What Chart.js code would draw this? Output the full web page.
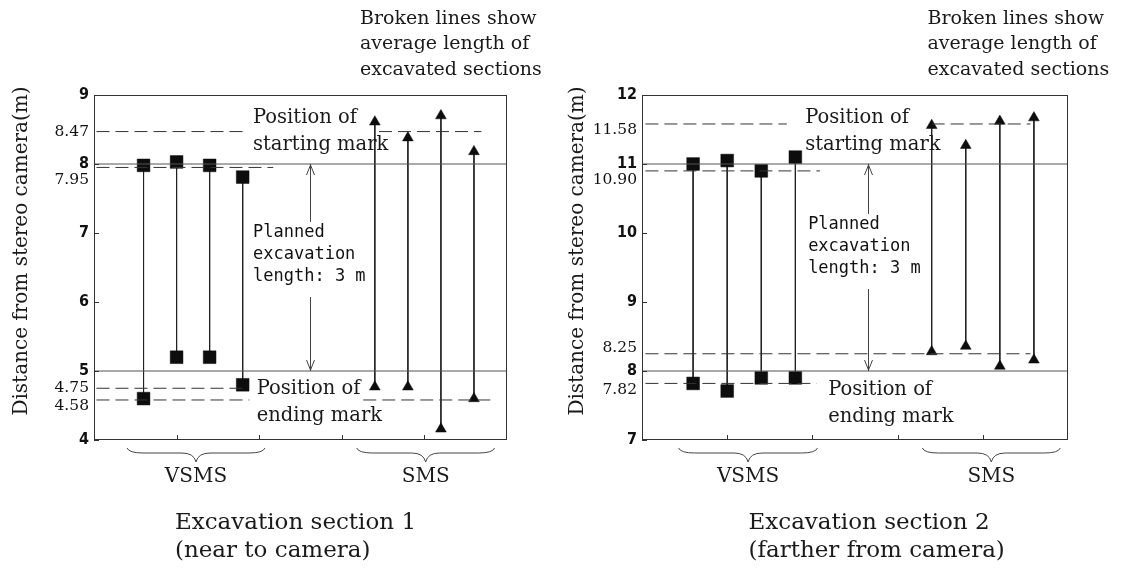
<!DOCTYPE html>
<html>
<head>
<meta charset="utf-8">
<script src="https://cdn.jsdelivr.net/npm/chart.js@4.4.0/dist/chart.umd.min.js"></script>
<style>
  html, body { margin: 0; padding: 0; background: #ffffff; }
  #wrap { position: relative; width: 1123px; height: 569px; overflow: hidden; background: #fff; }
  .panel { position: absolute; top: 0; height: 569px; }
  #p1 { left: 0; width: 561px; }
  #p2 { left: 561px; width: 562px; }
</style>
</head>
<body>
<div id="wrap">
  <div class="panel" id="p1"><canvas id="c1"></canvas></div>
  <div class="panel" id="p2"><canvas id="c2"></canvas></div>
</div>
<script>
// ================= DATA =================
const groupNames = ['VSMS', 'SMS'];
const vsmsSlots = [0.6, 1.0, 1.4, 1.8];   // x slot of each VSMS trial
const smsSlots  = [3.4, 3.8, 4.2, 4.6];   // x slot of each SMS trial

// Excavation section 1 (near to camera)
const s1VsmsStart = [7.98, 8.03, 7.98, 7.81];
const s1VsmsEnd   = [4.60, 5.20, 5.20, 4.80];
const s1SmsStart  = [8.61, 8.38, 8.70, 8.18];
const s1SmsEnd    = [4.77, 4.77, 4.16, 4.60];
const s1Planned   = [8, 5];                      // starting mark, ending mark
const s1Averages  = [8.47, 7.95, 4.75, 4.58];    // broken lines
const s1Ticks     = [4, 4.58, 4.75, 5, 6, 7, 7.95, 8, 8.47, 9];

// Excavation section 2 (farther from camera)
const s2VsmsStart = [11.00, 11.05, 10.90, 11.10];
const s2VsmsEnd   = [7.82, 7.71, 7.90, 7.90];
const s2SmsStart  = [11.56, 11.27, 11.62, 11.67];
const s2SmsEnd    = [8.28, 8.36, 8.07, 8.16];
const s2Planned   = [11, 8];
const s2Averages  = [11.58, 10.90, 8.25, 7.82];
const s2Ticks     = [7, 7.82, 8, 8.25, 9, 10, 10.90, 11, 11.58, 12];

const yTitle = 'Distance from stereo camera(m)';
const noteBroken = ['Broken lines show', 'average length of', 'excavated sections'];
const noteStart = ['Position of', 'starting mark'];
const noteEnd = ['Position of', 'ending mark'];
const notePlanned = ['Planned', 'excavation', 'length: 3 m'];
const s1Title = ['Excavation section 1', '(near to camera)'];
const s2Title = ['Excavation section 2', '(farther from camera)'];

// ================= LAYOUT / STYLE =================
const SERIF = "'DejaVu Serif', 'Liberation Serif', serif";
const MONO = "'DejaVu Sans Mono', 'Liberation Mono', monospace";
const NARROW = "'Liberation Sans Narrow', 'DejaVu Sans Condensed', 'Liberation Sans', sans-serif";

const layout1 = {
  yMin: 4, yMax: 9, axisWidth: 94, padRight: 54,
  avgSpans: [[[0.03, 1.87], [3.45, 4.69]], [[0.03, 2.17]], [[0.03, 1.85]], [[0.03, 1.88], [3.26, 4.83]]],
  labelShift: { '7.95': 12.5, '4.58': 6 },
  arrowX: 2.615, plannedX: 1.925, plannedY: 233,
  startX: 1.925, startY: 118, endX: 1.97, endY: 389,
  brokenX: 3.22, titleX: 0.98,
  braces: [[0.40, 2.07], [3.18, 4.85]],
  yTitleX: 22, yTitleY: 251
};
const layout2 = {
  yMin: 7, yMax: 12, axisWidth: 81, padRight: 55,
  avgSpans: [[[0.04, 1.70], [3.40, 4.56]], [[0.04, 2.09]], [[0.04, 4.56]], [[0.04, 2.05]]],
  labelShift: { '10.90': 9, '11.58': 6, '8.25': -6, '7.82': 7 },
  arrowX: 2.656, plannedX: 1.95, plannedY: 225,
  startX: 1.915, startY: 118, endX: 2.186, endY: 390,
  brokenX: 3.35, titleX: 1.25,
  braces: [[0.43, 2.06], [3.29, 4.91]],
  yTitleX: 17, yTitleY: 251
};

function fmt(v) { return Number.isInteger(v) ? String(v) : v.toFixed(2); }

function lineDs(points, color, dash) {
  return {
    type: 'scatter', data: points, showLine: true,
    borderColor: color, borderWidth: 1, borderDash: dash,
    pointRadius: 0, fill: false, tension: 0
  };
}

function sampleDs(xv, y0, y1, style) {
  return {
    type: 'scatter', data: [{ x: xv, y: y0 }, { x: xv, y: y1 }], showLine: true,
    borderColor: '#222', borderWidth: 1, fill: false,
    pointStyle: style, pointRadius: style === 'rect' ? 9 : 6.2,
    pointBackgroundColor: '#0d0d0d', pointBorderColor: '#0d0d0d', pointBorderWidth: 0.5
  };
}

const decoPlugin = {
  id: 'deco',
  afterDatasetsDraw(chart, args, o) {
    const { ctx, chartArea: a } = chart;
    const xs = chart.scales.x, ys = chart.scales.y;
    const L = o.lay;
    ctx.save();
    // frame
    ctx.strokeStyle = '#333'; ctx.lineWidth = 1; ctx.setLineDash([]);
    ctx.strokeRect(Math.round(a.left) + 0.5, Math.round(a.top) + 0.5, Math.round(a.width) - 1, Math.round(a.height) - 1);
    // inner tick marks
    ctx.beginPath();
    for (let v = 1; v < 5; v++) {
      const px = Math.round(xs.getPixelForValue(v)) + 0.5;
      ctx.moveTo(px, a.bottom); ctx.lineTo(px, a.bottom - 5);
    }
    o.ticks.filter(Number.isInteger).forEach(v => {
      const py = Math.round(ys.getPixelForValue(v)) + 0.5;
      ctx.moveTo(a.left, py); ctx.lineTo(a.left + 5, py);
    });
    ctx.stroke();

    // planned-length arrow
    const ax = Math.round(xs.getPixelForValue(L.arrowX)) + 0.5;
    const yT = ys.getPixelForValue(o.planned[0]);
    const yB = ys.getPixelForValue(o.planned[1]);
    const gapT = L.plannedY - 11, gapB = L.plannedY + 2 * 22 + 20;
    ctx.strokeStyle = '#444';
    ctx.beginPath();
    ctx.moveTo(ax, yT); ctx.lineTo(ax, gapT);
    ctx.moveTo(ax, gapB); ctx.lineTo(ax, yB);
    ctx.moveTo(ax - 4, yT + 11); ctx.lineTo(ax, yT + 1); ctx.lineTo(ax + 4, yT + 11);
    ctx.moveTo(ax - 4, yB - 11); ctx.lineTo(ax, yB - 1); ctx.lineTo(ax + 4, yB - 11);
    ctx.stroke();

    ctx.fillStyle = '#111';
    ctx.textBaseline = 'middle';
    ctx.textAlign = 'left';
    // planned text (gothic/mono)
    ctx.font = '17px ' + MONO;
    const px0 = xs.getPixelForValue(L.plannedX);
    notePlanned.forEach((t, i) => ctx.fillText(t, px0, L.plannedY + i * 22));
    // serif notes
    ctx.fillStyle = '#1a1a1a';
    ctx.font = '19.5px ' + SERIF;
    const sx = xs.getPixelForValue(L.startX);
    noteStart.forEach((t, i) => ctx.fillText(t, sx, L.startY + i * 27));
    const ex = xs.getPixelForValue(L.endX);
    noteEnd.forEach((t, i) => ctx.fillText(t, ex, L.endY + i * 27));
    ctx.font = '19px ' + SERIF;
    const bx = xs.getPixelForValue(L.brokenX);
    noteBroken.forEach((t, i) => ctx.fillText(t, bx, 19 + i * 25.5));

    // braces + group names
    ctx.strokeStyle = '#444';
    L.braces.forEach(([f, t], i) => {
      const x0 = xs.getPixelForValue(f), x1 = xs.getPixelForValue(t), xm = (x0 + x1) / 2;
      const top = 448, mid = 453, tip = 462;
      ctx.beginPath();
      ctx.moveTo(x0, top);
      ctx.quadraticCurveTo(x0 + 2, mid, x0 + 16, mid);
      ctx.lineTo(xm - 14, mid);
      ctx.quadraticCurveTo(xm - 2, mid, xm, tip);
      ctx.quadraticCurveTo(xm + 2, mid, xm + 14, mid);
      ctx.lineTo(x1 - 16, mid);
      ctx.quadraticCurveTo(x1 - 2, mid, x1, top);
      ctx.stroke();
      ctx.font = '20px ' + SERIF;
      ctx.textAlign = 'center';
      ctx.fillText(groupNames[i], xm, 477);
    });

    // panel title
    ctx.textAlign = 'left';
    ctx.font = '23px ' + SERIF;
    const tx = xs.getPixelForValue(L.titleX);
    o.title.forEach((t, i) => ctx.fillText(t, tx, 523 + i * 28));

    // y-axis title
    ctx.save();
    ctx.translate(L.yTitleX, L.yTitleY);
    ctx.rotate(-Math.PI / 2);
    ctx.textAlign = 'center';
    ctx.font = '20px ' + SERIF;
    ctx.fillText(yTitle, 0, 0);
    ctx.restore();

    ctx.restore();
  }
};

function makeChart(id, d, L) {
  const datasets = [];
  d.planned.forEach(v => datasets.push(lineDs([{ x: 0, y: v }, { x: 5, y: v }], '#555', [])));
  d.averages.forEach((v, i) => L.avgSpans[i].forEach(([f, t]) =>
    datasets.push(lineDs([{ x: f, y: v }, { x: t, y: v }], '#333', [13, 6]))));
  vsmsSlots.forEach((xv, i) => datasets.push(sampleDs(xv, d.vsmsStart[i], d.vsmsEnd[i], 'rect')));
  smsSlots.forEach((xv, i) => datasets.push(sampleDs(xv, d.smsStart[i], d.smsEnd[i], 'triangle')));

  const shift = (v) => L.labelShift[fmt(v)] || 0;

  return new Chart(document.getElementById(id), {
    type: 'scatter',
    data: { datasets },
    plugins: [decoPlugin],
    options: {
      responsive: true, maintainAspectRatio: false, animation: false, events: [],
      layout: { padding: { top: 95, right: L.padRight, bottom: 129, left: 0 } },
      plugins: {
        legend: { display: false }, tooltip: { enabled: false },
        deco: { lay: L, ticks: d.ticks, planned: d.planned, title: d.title }
      },
      scales: {
        x: { type: 'linear', min: 0, max: 5, display: false },
        y: {
          type: 'linear', min: L.yMin, max: L.yMax,
          grid: { display: false, drawTicks: false },
          border: { display: false },
          afterBuildTicks: (sc) => { sc.ticks = d.ticks.map(v => ({ value: v })); },
          afterFit: (sc) => { sc.width = L.axisWidth; },
          ticks: {
            autoSkip: false, padding: 5, color: '#111',
            callback: (v) => {
              const s = shift(v), t = fmt(v);
              if (s > 0) return ['', t];
              if (s < 0) return [t, ''];
              return t;
            },
            font: (c) => {
              const v = c.tick ? c.tick.value : 0;
              const s = Math.abs(shift(v));
              const lh = s ? (2 * s) + 'px' : 1.2;
              if (Number.isInteger(v)) return { family: NARROW, size: 16, weight: 'bold', lineHeight: lh };
              return { family: SERIF, size: 15.5, lineHeight: lh };
            }
          }
        }
      }
    }
  });
}

makeChart('c1', {
  vsmsStart: s1VsmsStart, vsmsEnd: s1VsmsEnd, smsStart: s1SmsStart, smsEnd: s1SmsEnd,
  planned: s1Planned, averages: s1Averages, ticks: s1Ticks, title: s1Title
}, layout1);
makeChart('c2', {
  vsmsStart: s2VsmsStart, vsmsEnd: s2VsmsEnd, smsStart: s2SmsStart, smsEnd: s2SmsEnd,
  planned: s2Planned, averages: s2Averages, ticks: s2Ticks, title: s2Title
}, layout2);
</script>
</body>
</html>
